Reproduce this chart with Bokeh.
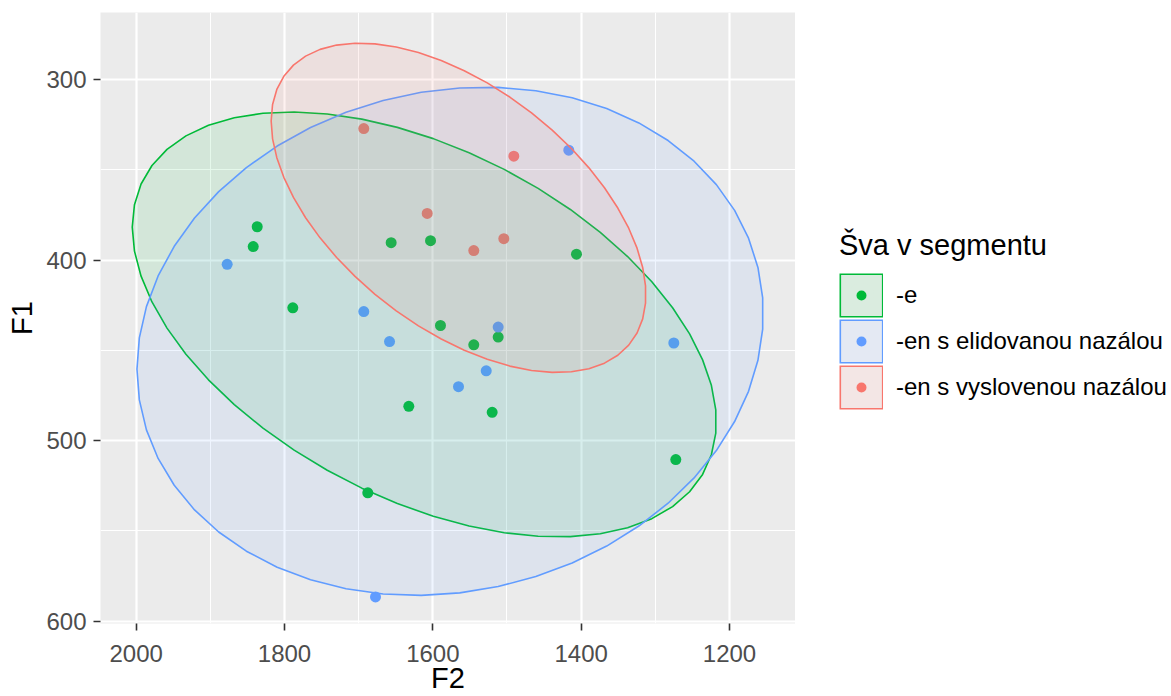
import numpy as np
from bokeh.plotting import figure
from bokeh.layouts import row
from bokeh.models import Range1d, FixedTicker, Legend, LegendItem
from bokeh.embed import file_html
from bokeh.resources import INLINE

# ---------------- data ----------------
groups = ["-e", "-en s elidovanou nazálou", "-en s vyslovenou nazálou"]
colors = ["#00BA38", "#619CFF", "#F8766D"]
key_fills = ["#DAECDF", "#E4E9F3", "#F3E6E5"]

e_F2 = [1836.8, 1842.2, 1788.8, 1656.2, 1603.1, 1589.7, 1544.8, 1511.9,
        1406.3, 1632.4, 1520.0, 1687.7, 1272.4]
e_F1 = [381.5, 392.5, 426.4, 390.3, 389.2, 436.2, 446.9, 442.6,
        396.7, 481.0, 484.3, 528.9, 510.5]

elid_F2 = [1877.3, 1693.1, 1658.4, 1511.9, 1565.4, 1528.0, 1416.7, 1275.1, 1677.3]
elid_F1 = [402.3, 428.5, 445.1, 437.1, 470.1, 461.3, 339.1, 445.9, 586.6]

vysl_F2 = [1693.1, 1490.8, 1607.6, 1544.8, 1504.3]
vysl_F1 = [327.1, 342.4, 374.1, 394.7, 388.1]

x_ticks = [2000, 1800, 1600, 1400, 1200]
x_minor = [1900, 1700, 1500, 1300]
y_ticks = [300, 400, 500, 600]
y_minor = [350, 450, 550]

series = [(e_F2, e_F1), (elid_F2, elid_F1), (vysl_F2, vysl_F1)]


# ---------------- stat_ellipse (type = "t", level = 0.95) ----------------
def cov_trob(X, nu=5, maxit=25, tol=0.01):
    n, p = X.shape
    wt = np.ones(n)
    loc = X.mean(axis=0)
    w = np.sqrt(wt)
    Xc = X - loc
    for _ in range(maxit):
        w0 = w
        Xc = X - loc
        _, d, vt = np.linalg.svd(np.sqrt(w / w.sum())[:, None] * Xc,
                                 full_matrices=False)
        wX = Xc @ vt.T @ np.diag(1.0 / d)
        Q = (wX ** 2).sum(axis=1)
        w = (wt * (nu + p)) / (nu + Q)
        loc = (w[:, None] * X).sum(axis=0) / w.sum()
        if np.all(np.abs(w - w0) < tol):
            break
    sw = np.sqrt(w)[:, None] * Xc
    cov = sw.T @ sw / wt.sum()
    return loc, cov


def ellipse(xs, ys, level=0.95, segments=51):
    X = np.column_stack([xs, ys]).astype(float)
    n = X.shape[0]
    center, shape = cov_trob(X)
    dfn, dfd = 2, n - 1
    qf = dfd / 2.0 * ((1 - level) ** (-2.0 / dfd) - 1)   # F(2, dfd) quantile
    radius = np.sqrt(dfn * qf)
    R = np.linalg.cholesky(shape).T
    ang = np.arange(segments + 1) * 2 * np.pi / segments
    circ = np.column_stack([np.cos(ang), np.sin(ang)])
    pts = center + radius * (circ @ R)
    return pts[:, 0], pts[:, 1]


ellipses = [ellipse(xs, ys) for xs, ys in series]

# ---------------- main panel ----------------
p = figure(width=795, height=696, output_backend="svg", toolbar_location=None,
           x_range=Range1d(2048.1, 1111.0), y_range=Range1d(601.3, 262.8),
           min_border_left=100, min_border_right=0, min_border_top=12,
           min_border_bottom=72)

p.background_fill_color = "#EBEBEB"
p.border_fill_color = "white"
p.outline_line_color = None

for ax in (p.xaxis[0], p.yaxis[0]):
    ax.axis_line_color = None
    ax.major_tick_line_color = "#333333"
    ax.major_tick_line_width = 1.6
    ax.major_tick_out = 7
    ax.major_tick_in = 0
    ax.minor_tick_line_color = None
    ax.major_label_text_font = "Liberation Sans"
    ax.major_label_text_font_size = "24px"
    ax.major_label_text_color = "#4D4D4D"
    ax.axis_label_text_font = "Liberation Sans"
    ax.axis_label_text_font_size = "29px"
    ax.axis_label_text_font_style = "normal"
    ax.axis_label_text_color = "black"

p.xaxis[0].ticker = FixedTicker(ticks=x_ticks, minor_ticks=x_minor)
p.yaxis[0].ticker = FixedTicker(ticks=y_ticks, minor_ticks=y_minor)
p.xaxis[0].major_label_standoff = 14
p.yaxis[0].major_label_standoff = 7
p.xaxis[0].axis_label = "F2"
p.xaxis[0].axis_label_standoff = -3
p.yaxis[0].axis_label = "F1"
p.yaxis[0].axis_label_standoff = 5

for g in (p.xgrid[0], p.ygrid[0]):
    g.grid_line_color = "white"
    g.grid_line_width = 2.2
    g.minor_grid_line_color = "white"
    g.minor_grid_line_width = 1.1

# points (drawn under the ellipses)
for (xs, ys), c in zip(series, colors):
    p.scatter(xs, ys, size=11, color=c, line_width=0)

# ellipses
for (ex, ey), c in zip(ellipses, colors):
    p.patch(ex, ey, fill_color=c, fill_alpha=0.1, line_color=c, line_width=1.6)

# ---------------- legend panel ----------------
q = figure(width=376, height=696, output_backend="svg", toolbar_location=None,
           x_range=Range1d(2048.1, 1111.0), y_range=Range1d(601.3, 262.8),
           min_border_left=0, min_border_right=0, min_border_top=0,
           min_border_bottom=0, x_axis_location=None, y_axis_location=None)
q.grid.visible = False
q.outline_line_color = None
q.background_fill_color = "white"
q.border_fill_color = "white"

KEY = 17.6  # legend marker size (0.4 * key side)
items = []
for (xs, ys), g, c, kf in zip(series, groups, colors, key_fills):
    outer = q.scatter(xs, ys, marker="square", size=KEY, fill_color=c,
                      line_color=c, line_width=26.4, line_join="miter",
                      visible=False)
    inner = q.scatter(xs, ys, marker="square", size=KEY, fill_color=kf,
                      line_color=kf, line_width=23.2, line_join="miter",
                      visible=False)
    dot = q.scatter(xs, ys, marker="circle", size=KEY, fill_color=c,
                    line_color=kf, line_width=7.6, visible=False)
    items.append(LegendItem(label=g, renderers=[outer, inner, dot]))

legend = Legend(items=items, location=(44, 213),
                title="Šva v segmentu",
                title_text_font="Liberation Sans", title_text_font_size="29px",
                title_text_font_style="normal", title_text_color="black",
                title_standoff=10,
                label_text_font="Liberation Sans", label_text_font_size="24px",
                label_text_color="black", label_standoff=13,
                glyph_width=44, glyph_height=46, label_height=46,
                spacing=0, padding=0, margin=0,
                border_line_color=None, background_fill_alpha=0)
q.add_layout(legend)

layout = row(p, q)
open("out.html", "w").write(file_html(layout, INLINE))
